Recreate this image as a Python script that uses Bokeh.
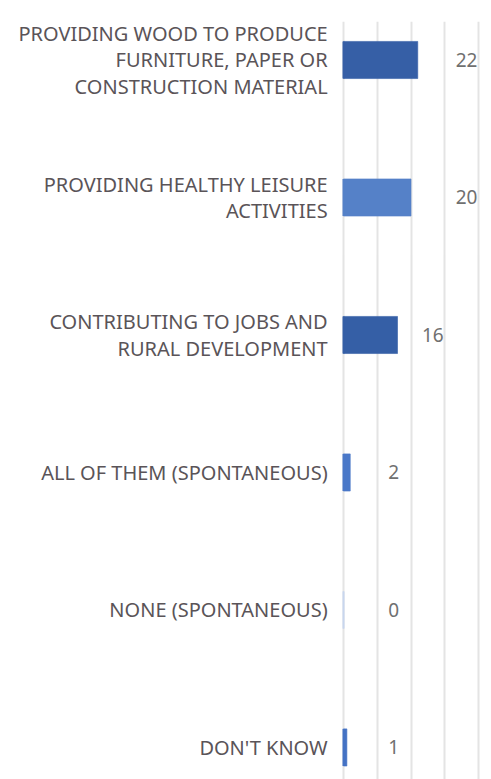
from bokeh.plotting import figure
from bokeh.models import Range1d, ColumnDataSource, Grid, FixedTicker
from bokeh.core.properties import value
from bokeh.embed import file_html
from bokeh.resources import INLINE

categories = [
    "PROVIDING WOOD TO PRODUCE\nFURNITURE, PAPER OR\nCONSTRUCTION MATERIAL",
    "PROVIDING HEALTHY LEISURE\nACTIVITIES",
    "CONTRIBUTING TO JOBS AND\nRURAL DEVELOPMENT",
    "ALL OF THEM (SPONTANEOUS)",
    "NONE (SPONTANEOUS)",
    "DON'T KNOW",
]
values = [22, 20, 16, 2, 0, 1]
bar_colors = ["#365fa6", "#5581c8", "#355fa6", "#4a78c8", "#c8d6ee", "#4472c4"]
grid_ticks = [0, 10, 20, 30, 40]

pos = list(range(len(categories)))
label_x = [(v // 10 + 1) * 10 for v in values]
half = 0.135
src = ColumnDataSource(dict(y=pos, v=values, c=bar_colors, cat=categories,
                            lx=label_x, vt=[str(v) for v in values],
                            zero=[0] * len(values),
                            y0=[i - half for i in pos], y1=[i + half for i in pos]))

FONT = "Noto Sans"
p = figure(width=491, height=779, output_backend="svg", toolbar_location=None,
           x_axis_location=None, y_axis_location=None,
           x_range=Range1d(-101.63, 43.85), y_range=Range1d(5.233, -0.28),
           min_border_left=0, min_border_right=0, min_border_top=21,
           min_border_bottom=0)
p.outline_line_color = None
p.xgrid.visible = False
p.ygrid.visible = False
p.add_layout(Grid(dimension=0, ticker=FixedTicker(ticks=grid_ticks),
                  grid_line_color="#e4e4e4", grid_line_width=2))

p.hbar(y="y", left="zero", right="v", height=2 * half, fill_color="c",
       line_color="c", line_alpha=0.6, line_width=1, source=src)
p.segment(x0="zero", x1="zero", y0="y0", y1="y1", line_color="c",
          line_width=2, source=src)

p.text(x=-4.7, y="y", text="cat", source=src, text_align="right",
       text_baseline="middle", text_font=value(FONT), text_font_size="20px",
       text_color="#5a5458", text_line_height=0.98)

p.text(x="lx", y="y", text="vt", source=src, text_align="left",
       text_baseline="middle", x_offset=11, text_font=value(FONT),
       text_font_size="19px", text_color="#707070")

open("out.html", "w").write(file_html(p, INLINE))
